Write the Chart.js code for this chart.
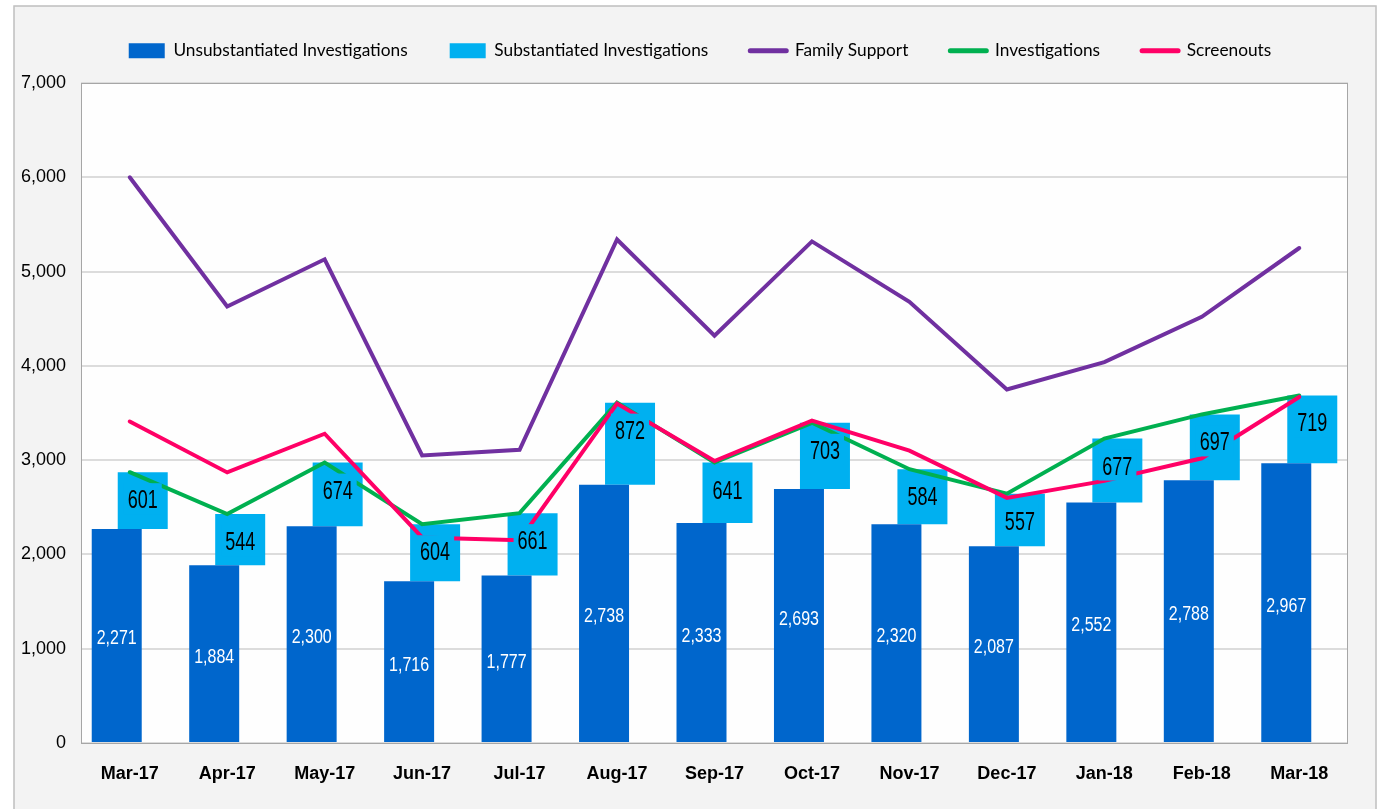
<!DOCTYPE html>
<html>
<head>
<meta charset="utf-8">
<script src="https://cdn.jsdelivr.net/npm/chart.js@4/dist/chart.umd.min.js"></script>
<style>
  html, body { margin: 0; padding: 0; background: #ffffff; }
  #wrap { width: 1382px; height: 809px; }
</style>
</head>
<body>
<div id="wrap"><canvas id="c" width="1382" height="809"></canvas></div>
<script>
const categories = ['Mar-17','Apr-17','May-17','Jun-17','Jul-17','Aug-17','Sep-17','Oct-17','Nov-17','Dec-17','Jan-18','Feb-18','Mar-18'];
const unsubstantiated = [2271, 1884, 2300, 1716, 1777, 2738, 2333, 2693, 2320, 2087, 2552, 2788, 2967];
const substantiated   = [601, 544, 674, 604, 661, 872, 641, 703, 584, 557, 677, 697, 719];
const familySupport   = [6000, 4630, 5130, 3050, 3110, 5340, 4320, 5320, 4680, 3750, 4040, 4520, 5250];
const investigations  = [2872, 2428, 2974, 2320, 2438, 3610, 2974, 3396, 2904, 2644, 3229, 3485, 3686];
const screenouts      = [3410, 2870, 3280, 2180, 2150, 3600, 2990, 3420, 3100, 2600, 2780, 3020, 3670];
const yTicks = [0, 1000, 2000, 3000, 4000, 5000, 6000, 7000];

const fmt = v => v.toLocaleString('en-US');

const framePlugin = {
  id: 'frame',
  beforeLayout(chart) {
    const lg = chart.legend;
    if (lg && !lg._fixedHeight) {
      const f = lg.fit;
      lg.fit = function () { f.call(this); this.height = 83; };
      lg._fixedHeight = true;
    }
  },
  afterLayout(chart) {
    const lg = chart.legend;
    if (lg) { lg.left = 52; lg.right = 1348; }
  },
  beforeDraw(chart) {
    const ctx = chart.ctx, a = chart.chartArea;
    ctx.save();
    ctx.fillStyle = '#ffffff';
    ctx.fillRect(0, 0, chart.width, chart.height);
    ctx.fillStyle = '#F3F3F3';
    ctx.fillRect(14, 6, 1362, 810);
    ctx.strokeStyle = '#BFBFBF';
    ctx.lineWidth = 1.5;
    ctx.strokeRect(14, 6, 1362, 810);
    ctx.fillStyle = '#FEFEFE';
    ctx.fillRect(a.left, a.top, a.right - a.left, a.bottom - a.top);
    ctx.restore();
  },
  beforeDatasetsDraw(chart) {
    const ctx = chart.ctx, a = chart.chartArea;
    ctx.save();
    ctx.strokeStyle = '#A6A6A6';
    ctx.lineWidth = 1;
    ctx.strokeRect(a.left + 0.5, a.top + 0.5, a.right - a.left - 1, a.bottom - a.top);
    ctx.restore();
  }
};

function drawStretched(ctx, text, x, cy, size, sx, sy, color) {
  ctx.save();
  ctx.translate(x, cy + 0.358 * size * sy);
  ctx.scale(sx, sy);
  ctx.font = size + 'px "Liberation Sans", Arial, sans-serif';
  ctx.textAlign = 'center';
  ctx.textBaseline = 'alphabetic';
  ctx.fillStyle = color;
  ctx.fillText(text, 0, 0);
  ctx.restore();
}

const labelPlugin = {
  id: 'barLabels',
  afterDatasetsDraw(chart) {
    const ctx = chart.ctx;
    const m0 = chart.getDatasetMeta(0), m1 = chart.getDatasetMeta(1);
    m0.data.forEach((bar, i) => {
      const p = bar.getProps(['x', 'y', 'base'], true);
      const cy = (p.y + p.base) / 2 + 2;
      drawStretched(ctx, fmt(unsubstantiated[i]), p.x, cy, 16, 1, 1.22, '#ffffff');
    });
    m1.data.forEach((bar, i) => {
      const p = bar.getProps(['x', 'y', 'base'], true);
      const top = Math.min(p.y, p.base);
      const cy = top + 26.5;
      const txt = fmt(substantiated[i]);
      ctx.save();
      ctx.font = '18px "Liberation Sans", Arial, sans-serif';
      const w = ctx.measureText(txt).width + 8;
      ctx.fillStyle = '#00B0F0';
      ctx.fillRect(p.x - w / 2, cy - 15.5, w, 31);
      ctx.restore();
      drawStretched(ctx, txt, p.x, cy, 18, 1, 1.47, '#000000');
    });
  }
};

const lineDs = (label, data, color, order) => ({
  type: 'line', label, data, borderColor: color, backgroundColor: color,
  borderWidth: 4, pointRadius: 0, pointHoverRadius: 0, tension: 0,
  borderCapStyle: 'round', borderJoinStyle: 'miter', order, fill: false
});

new Chart(document.getElementById('c'), {
  type: 'bar',
  data: {
    labels: categories,
    datasets: [
      { type: 'bar', label: 'Unsubstantiated Investigations', data: unsubstantiated,
        backgroundColor: '#0066CC', order: 4,
        categoryPercentage: 0.5335, barPercentage: 1.923 },
      { type: 'bar', label: 'Substantiated Investigations',
        data: unsubstantiated.map((u, i) => [u, u + substantiated[i]]),
        backgroundColor: '#00B0F0', order: 5,
        categoryPercentage: 0.5335, barPercentage: 1.923 },
      lineDs('Family Support', familySupport, '#7030A0', 3),
      lineDs('Investigations', investigations, '#00B050', 2),
      lineDs('Screenouts', screenouts, '#FF0066', 1)
    ]
  },
  options: {
    responsive: false,
    animation: false,
    devicePixelRatio: 1,
    layout: { padding: { top: 0, right: 34, bottom: 0, left: 0 } },
    plugins: {
      tooltip: { enabled: false },
      legend: {
        position: 'top',
        labels: {
          usePointStyle: true,
          pointStyleWidth: 36,
          boxWidth: 36,
          boxHeight: 15,
          padding: 42,
          color: '#000000',
          font: { family: 'Lato, "Open Sans", sans-serif', size: 17.3 },
          generateLabels(chart) {
            return chart.data.datasets.map((ds, i) => {
              const isLine = ds.type === 'line';
              return {
                text: ds.label,
                datasetIndex: i,
                fillStyle: isLine ? ds.borderColor : ds.backgroundColor,
                strokeStyle: isLine ? ds.borderColor : ds.backgroundColor,
                lineWidth: isLine ? 5 : 0,
                lineCap: 'round',
                pointStyle: isLine ? 'line' : 'rect',
                hidden: !chart.isDatasetVisible(i),
                fontColor: '#000000'
              };
            });
          }
        }
      }
    },
    scales: {
      x: {
        offset: true,
        grid: { display: false, drawTicks: false },
        border: { display: false },
        ticks: {
          color: '#000000', padding: 20, maxRotation: 0, autoSkip: false,
          font: { family: '"Liberation Sans", Arial, sans-serif', size: 18, weight: 'bold' }
        },
        afterFit(s) { s.height = 66; }
      },
      y: {
        min: 0, max: 7000,
        afterBuildTicks(s) { s.ticks = yTicks.map(v => ({ value: v })); },
        grid: { color: '#DCDCDC', lineWidth: 2, drawTicks: false },
        border: { display: false },
        ticks: {
          color: '#000000', padding: 15,
          font: { family: '"Liberation Sans", Arial, sans-serif', size: 18 },
          callback: v => fmt(v)
        },
        afterFit(s) { s.width = 81; }
      }
    }
  },
  plugins: [framePlugin, labelPlugin]
});
</script>
</body>
</html>
